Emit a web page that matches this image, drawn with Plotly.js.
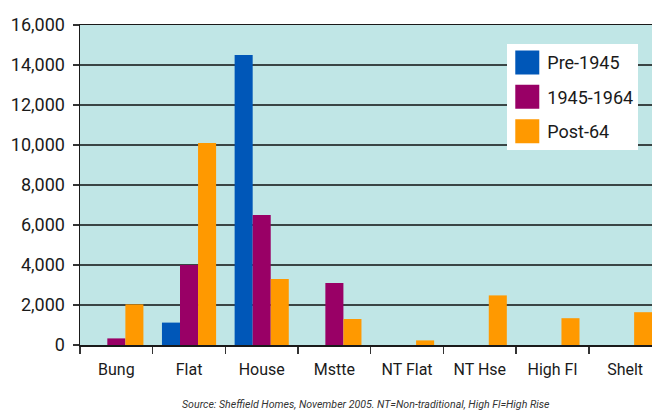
<!DOCTYPE html>
<html><head><meta charset="utf-8">
<script src="https://cdn.plot.ly/plotly-3.0.1.min.js"></script>
<style>html,body{margin:0;padding:0;background:#fff}#chart{width:652px;height:410px}</style>
</head><body><div id="chart"></div>
<script>
var categories = ["Bung","Flat","House","Mstte","NT Flat","NT Hse","High Fl","Shelt"];
var pre1945 = [0, 1120, 14500, 0, 0, 0, 0, 0];
var mid1945_1964 = [330, 4000, 6500, 3100, 0, 0, 0, 0];
var post64 = [2030, 10100, 3300, 1300, 230, 2480, 1340, 1640];
var seriesNames = ["Pre-1945","1945-1964","Post-64"];
var yTicks = [0,2000,4000,6000,8000,10000,12000,14000,16000];
var yTickText = ["0","2,000","4,000","6,000","8,000","10,000","12,000","14,000","16,000"];
var sourceNote = "Source: Sheffield Homes, November 2005. NT=Non-traditional, High Fl=High Rise";

var FONT = "Roboto, 'Liberation Sans', sans-serif";
var colors = ["#0057b8","#990066","#ff9900"];
var vals = [pre1945, mid1945_1964, post64];
var traces = vals.map(function(v,i){
  return {type:"bar", x:categories, y:v, name:seriesNames[i], legendgroup:"g"+i,
    marker:{color:colors[i], line:{width:0}}, hoverinfo:"skip"};
});
var layout = {
  width:652, height:410,
  margin:{l:80, r:0, t:25, b:65},
  paper_bgcolor:"#ffffff", plot_bgcolor:"#c0e6e6",
  barmode:"group", bargap:0.255, bargroupgap:0,
  font:{family:FONT, color:"#1a1a1a"},
  xaxis:{type:"category", range:[-0.5, 7.37], showline:true, linecolor:"#1a1a1a", linewidth:1.5,
    mirror:true, ticks:"outside", tickson:"boundaries", ticklen:7, tickwidth:1.5, tickcolor:"#333",
    showgrid:false, tickangle:0, automargin:false, ticklabelstandoff:9,
    tickfont:{size:16, family:FONT, color:"#1a1a1a"}, fixedrange:true},
  yaxis:{range:[0,16000], tickvals:yTicks, ticktext:yTickText, showline:true, linecolor:"#1a1a1a",
    linewidth:1.5, ticks:"outside", ticklen:6, tickwidth:1.5, tickcolor:"#333", automargin:false,
    showgrid:true, gridcolor:"#3a4545", gridwidth:1.5, zeroline:false, ticklabelstandoff:4,
    tickfont:{size:18, family:FONT, color:"#1a1a1a"}, fixedrange:true},
  legend:{x:0.747, y:0.94, xanchor:"left", yanchor:"top", bgcolor:"#ffffff", borderwidth:0,
    font:{size:18, family:FONT, color:"#1a1a1a"}, tracegroupgap:8, traceorder:"grouped", itemwidth:30},
  annotations:[{text:sourceNote, xref:"paper", yref:"paper", x:0.5, y:-0.185, xanchor:"center", yanchor:"middle",
    showarrow:false, font:{size:10.6, family:FONT, color:"#333", style:"italic"}}],
  showlegend:true
};
Plotly.newPlot("chart", traces, layout, {displayModeBar:false, staticPlot:true}).then(function(gd){
  var pts = gd.querySelectorAll(".legendpoints path");
  pts.forEach(function(p){
    var t = p.getAttribute("transform") || "";
    p.setAttribute("transform", t + " scale(2)");
  });
});
</script>
</body></html>
